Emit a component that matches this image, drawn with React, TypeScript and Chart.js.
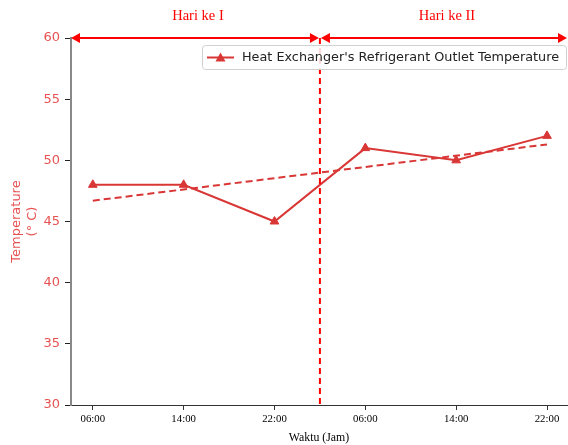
import React, { useEffect, useRef } from "react";
import { Chart, registerables } from "chart.js";
Chart.register(...registerables);

const timeLabels = ["06:00", "14:00", "22:00", "06:00", "14:00", "22:00"];
const outletTemp = [48, 48, 45, 51, 50, 52];
const trendX = [0, 5];
const trendY = [46.7, 51.3];
const dayLabels = ["Hari ke I", "Hari ke II"];
const yTicks = [30, 35, 40, 45, 50, 55, 60];
const seriesName = "Heat Exchanger's Refrigerant Outlet Temperature";

const LINE = "#d93636";
const RED = "#ff0000";
const AXIS_RED = "#e85252";

function arrowHead(ctx: CanvasRenderingContext2D, x: number, y: number, dir: number) {
  ctx.beginPath();
  ctx.moveTo(x, y);
  ctx.lineTo(x - dir * 9, y - 5);
  ctx.lineTo(x - dir * 9, y + 5);
  ctx.closePath();
  ctx.fill();
}

const overlay = {
  id: "overlay",
  afterDraw(chart: any) {
    const ctx = chart.ctx as CanvasRenderingContext2D;
    const xs = chart.scales.x;
    const ys = chart.scales.y;
    const ca = chart.chartArea;
    const mid = xs.getPixelForValue(2.5);
    const yTop = ys.getPixelForValue(60);
    ctx.save();
    ctx.strokeStyle = RED;
    ctx.lineWidth = 2;
    ctx.setLineDash([6, 4]);
    ctx.beginPath();
    ctx.moveTo(mid, ca.top);
    ctx.lineTo(mid, ca.bottom);
    ctx.stroke();
    ctx.setLineDash([]);
    const segs = [[ca.left, mid - 1], [mid + 1, ca.right]];
    ctx.fillStyle = RED;
    segs.forEach(([a, b], i) => {
      ctx.beginPath();
      ctx.moveTo(a + 4, yTop);
      ctx.lineTo(b - 4, yTop);
      ctx.stroke();
      arrowHead(ctx, a, yTop, -1);
      arrowHead(ctx, b, yTop, 1);
      ctx.font = "14.5px 'Liberation Serif', serif";
      ctx.textAlign = "center";
      ctx.textBaseline = "middle";
      ctx.fillText(dayLabels[i], (a + b) / 2 + 3, 16);
    });
    const lx = 202, ly = 45, lw = 365, lh = 24;
    ctx.fillStyle = "rgba(255,255,255,0.85)";
    ctx.strokeStyle = "#d0d0d0";
    ctx.lineWidth = 1;
    ctx.beginPath();
    (ctx as any).roundRect(lx + 0.5, ly + 0.5, lw - 1, lh, 3);
    ctx.fill();
    ctx.stroke();
    ctx.strokeStyle = LINE;
    ctx.fillStyle = LINE;
    ctx.lineWidth = 2;
    const cy = ly + lh / 2 + 0.5;
    ctx.beginPath();
    ctx.moveTo(207, cy);
    ctx.lineTo(234, cy);
    ctx.stroke();
    ctx.beginPath();
    ctx.moveTo(220.5, cy - 5);
    ctx.lineTo(225.5, cy + 4);
    ctx.lineTo(215.5, cy + 4);
    ctx.closePath();
    ctx.fill();
    ctx.fillStyle = "#222";
    ctx.font = "12.8px 'DejaVu Sans', sans-serif";
    ctx.textAlign = "left";
    ctx.textBaseline = "middle";
    ctx.fillText(seriesName, 242, cy);
    ctx.restore();
  },
};

export default function App() {
  const ref = useRef<HTMLCanvasElement>(null);
  useEffect(() => {
    document.body.style.margin = "0";
    const chart = new Chart(ref.current!, {
      type: "scatter",
      data: {
        datasets: [
          {
            label: seriesName,
            data: outletTemp.map((y, i) => ({ x: i, y })),
            showLine: true,
            borderColor: LINE,
            backgroundColor: LINE,
            borderWidth: 2,
            pointStyle: "triangle",
            pointRadius: 5,
            pointBorderWidth: 1,
          },
          {
            label: "trend",
            data: trendX.map((x, i) => ({ x, y: trendY[i] })),
            showLine: true,
            borderColor: LINE,
            borderWidth: 2,
            borderDash: [7, 4],
            pointRadius: 0,
          },
        ],
      },
      options: {
        animation: false,
        responsive: false,
        layout: { autoPadding: false, padding: { top: 38, right: 1, left: 0, bottom: 0 } },
        plugins: { legend: { display: false }, tooltip: { enabled: false } },
        scales: {
          x: {
            type: "linear",
            min: -0.24,
            max: 5.22,
            afterBuildTicks: (s: any) => {
              s.ticks = timeLabels.map((_, i) => ({ value: i }));
            },
            afterFit: (s: any) => {
              s.height = 40;
              s.paddingLeft = 0;
              s.paddingRight = 0;
            },
            grid: { drawOnChartArea: false, tickLength: 5, color: "#333" },
            border: { color: "#333", width: 1 },
            ticks: {
              callback: (v: any) => timeLabels[v] ?? "",
              color: "#000",
              font: { family: "'Liberation Serif', serif", size: 10.8 },
              padding: 3,
              maxRotation: 0,
              autoSkip: false,
            },
            title: {
              display: true,
              text: "Waktu (Jam)",
              color: "#000",
              font: { family: "'Liberation Serif', serif", size: 11.8 },
              padding: { top: 2, bottom: 0 },
            },
          },
          y: {
            min: 30,
            max: 60,
            afterBuildTicks: (s: any) => {
              s.ticks = yTicks.map((v) => ({ value: v }));
            },
            afterFit: (s: any) => {
              s.width = 71;
            },
            grid: { drawOnChartArea: false, tickLength: 6, color: "#222" },
            border: { color: "#888", width: 2 },
            ticks: {
              color: AXIS_RED,
              font: { family: "'DejaVu Sans', sans-serif", size: 13 },
              padding: 5,
            },
            title: {
              display: true,
              text: ["Temperature", "(° C)"],
              color: AXIS_RED,
              font: { family: "'DejaVu Sans', sans-serif", size: 13 },
              padding: { top: 9, bottom: 0 },
            },
          },
        },
      },
      plugins: [overlay],
    });
    return () => chart.destroy();
  }, []);
  return (
    <div style={{ position: "absolute", left: 0, top: 0, width: 568, height: 445 }}>
      <canvas ref={ref} width={568} height={445} />
    </div>
  );
}
